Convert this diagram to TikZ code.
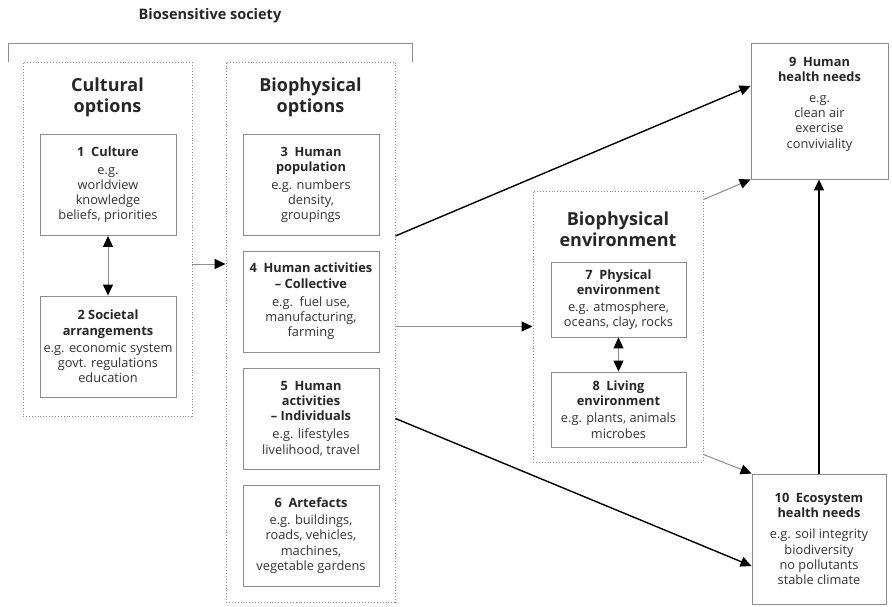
\documentclass[tikz,border=0pt]{standalone}
\usepackage{fontspec}
\setmainfont{Open Sans}
\usetikzlibrary{arrows.meta}

\definecolor{boxgray}{RGB}{140,140,140}
\definecolor{textgray}{RGB}{50,50,50}

\newcommand{\hd}[1]{\textbf{\color{black!85}#1}}

\begin{document}
\begin{tikzpicture}[x=1pt, y=-1pt,
    >={Triangle[length=11pt, width=10pt, color=black]},
    box/.style={draw=boxgray, line width=0.9pt, fill=white, align=center,
      inner sep=1pt, text=textgray, minimum width=136pt, minimum height=101pt,
      font=\fontsize{12.8}{15.2}\selectfont},
    group/.style={draw=boxgray, dotted, line width=0.9pt},
    title/.style={align=center, text=black!85, font=\fontsize{18}{21}\selectfont\bfseries},
    duo/.style={<->, draw=boxgray, line width=1pt},
    bold arrow/.style={->, line width=1.4pt},
    light arrow/.style={->, draw=boxgray, line width=1pt}]
    \useasboundingbox (0,0) rectangle (892,607);

    % society bracket
    \node[font=\fontsize{14.5}{16}\selectfont\bfseries, text=black!85] (soc) at (210,16) {Biosensitive society};
    \draw[boxgray, line width=0.9pt] (8,62) |- (412,43) -- (412,62);

    % option groups
    \node[group, minimum width=169pt, minimum height=354pt] (cult) at (107.5,239) {};
    \node[group, minimum width=169pt, minimum height=540pt] (opt) at (310.5,332) {};
    \node[group, minimum width=170pt, minimum height=271pt] (env) at (618,326.5) {};
    \node[title] (cultT) at (107.5,97) {Cultural\\options};
    \node[title] (optT) at (310.5,97) {Biophysical\\options};
    \node[title] (envT) at (618,229) {Biophysical\\environment};

    \node[box] (c1) at (108,185) {\hd{1\ \ Culture}\\[2pt] e.g.\\worldview\\knowledge\\beliefs, priorities};
    \node[box] (c2) at (108,346.5) {\hd{2 Societal}\\\hd{arrangements}\\[2pt] e.g. economic system\\govt. regulations\\education};

    \node[box] (c3) at (311,185) {\hd{3\ \ Human}\\\hd{population}\\[3pt] e.g. numbers\\density,\\groupings};
    \node[box] (c4) at (311,301.5) {\hd{4\ \ Human activities}\\\hd{-- Collective}\\[3pt] e.g.\ \ fuel use,\\manufacturing,\\farming};
    \node[box] (c5) at (311,418.5) {\hd{5\ \ Human}\\\hd{activities}\\\hd{-- Individuals}\\[3pt] e.g. lifestyles\\livelihood, travel};
    \node[box] (c6) at (311,535.5) {\hd{6\ \ Artefacts}\\[2pt] e.g. buildings,\\roads, vehicles,\\machines,\\vegetable gardens};

    \node[box, minimum width=135pt, minimum height=75pt] (c7) at (618.5,299.5) {\hd{7\ \ Physical}\\\hd{environment}\\[2pt] e.g. atmosphere,\\oceans, clay, rocks};
    \node[box, minimum width=135pt, minimum height=75pt] (c8) at (618.5,409.5) {\hd{8\ \ Living}\\\hd{environment}\\[2pt] e.g. plants, animals\\microbes};

    \node[box, minimum width=137pt, minimum height=136pt] (c9) at (819.5,111) {\hd{9\ \ Human}\\\hd{health needs}\\[6pt] e.g.\\clean air\\exercise\\conviviality\\[2pt]};
    \node[box, minimum width=134pt, minimum height=130pt] (c10) at (819,539) {\hd{10\ \ Ecosystem}\\\hd{health needs}\\[6pt] e.g. soil integrity\\biodiversity\\no pollutants\\stable climate};

    % links
    \draw[duo] (c1) -- (c2);
    \draw[duo] (c7) -- (c8);
    \draw[light arrow] ([yshift=-25pt]cult.east) -- ([yshift=-25pt]cult.east -| opt.west);
    \draw[bold arrow] (opt.east |- c3.south) -- ([yshift=25pt]c9.west);
    \draw[light arrow] (opt.east |- env.west) -- (env.west);
    \draw[bold arrow] (opt.east |- c5.east) -- ([yshift=-27pt]c10.west);
    \draw[light arrow] ([yshift=-9pt]env.north east) -- (c9.south west);
    \draw[light arrow] ([yshift=8pt]env.south east) -- (c10.north west);
    \draw[bold arrow] (c10.north) -- (c10.north |- c9.south);
  \end{tikzpicture}
\end{document}
